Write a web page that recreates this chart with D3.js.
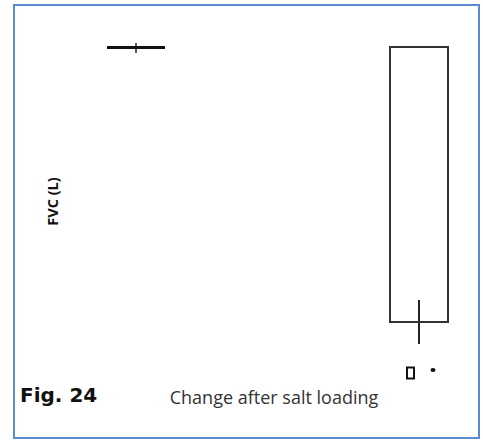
<!DOCTYPE html>
<html>
<head>
<meta charset="utf-8">
<script src="https://cdn.jsdelivr.net/npm/d3@7"></script>
<style>
  html, body { margin: 0; padding: 0; background: #fff; }
  svg { display: block; }
</style>
</head>
<body>
<svg id="chart" width="483" height="443"></svg>
<script>
// Box summaries of the change in FVC (L) after salt loading
const categories = ["Group 1", "Group 2"];
const q1Values = [0.600, 0.050];
const medianValues = [0.600, 0.050];
const q3Values = [0.600, 0.600];
const whiskerLow = [0.588, 0.006];
const whiskerHigh = [0.608, 0.094];
const outlierValues = [null, -0.052];
const meanValues = [null, -0.046];

const yLabel = "FVC (L)";
const xLabel = "Change after salt loading";
const figLabel = "Fig. 24";

const svg = d3.select("#chart");

// frame
svg.append("rect")
  .attr("x", 14).attr("y", 5).attr("width", 465).attr("height", 433)
  .attr("fill", "#fff").attr("stroke", "#5b8bd0").attr("stroke-width", 2);

const x = d3.scalePoint().domain(categories).range([136, 419]);
const y = d3.scaleLinear().domain([0.05, 0.60]).range([322, 47]);
const boxW = 58;

const g = svg.append("g");

categories.forEach((c, i) => {
  const cx = x(c);
  const top = y(q3Values[i]);
  const bot = y(q1Values[i]);
  const flat = Math.abs(bot - top) < 1;
  // whisker
  g.append("line")
    .attr("x1", cx).attr("x2", cx)
    .attr("y1", y(whiskerHigh[i])).attr("y2", y(whiskerLow[i]))
    .attr("stroke", "#222").attr("stroke-width", flat ? 1.5 : 2);
  if (flat) {
    g.append("line")
      .attr("x1", cx - boxW / 2).attr("x2", cx + boxW / 2)
      .attr("y1", y(medianValues[i]) + 0.5).attr("y2", y(medianValues[i]) + 0.5)
      .attr("stroke", "#111").attr("stroke-width", 3);
  } else {
    g.append("rect")
      .attr("x", cx - boxW / 2).attr("y", top)
      .attr("width", boxW).attr("height", bot - top)
      .attr("fill", "none").attr("stroke", "#333").attr("stroke-width", 2);
  }
  if (outlierValues[i] != null) {
    g.append("rect")
      .attr("x", cx - 12).attr("y", y(outlierValues[i]) - 5.5)
      .attr("width", 7).attr("height", 11)
      .attr("fill", "none").attr("stroke", "#111").attr("stroke-width", 2);
  }
  if (meanValues[i] != null) {
    g.append("ellipse")
      .attr("cx", cx + 14).attr("cy", y(meanValues[i]))
      .attr("rx", 2.5).attr("ry", 2)
      .attr("fill", "#111");
  }
});

// labels
svg.append("text")
  .attr("transform", "translate(58,201.5) rotate(-90)")
  .attr("text-anchor", "middle")
  .attr("font-family", "'Open Sans', sans-serif")
  .attr("font-weight", "bold")
  .attr("font-size", 14.5)
  .attr("fill", "#111")
  .text(yLabel);

svg.append("text")
  .attr("x", 274).attr("y", 404)
  .attr("text-anchor", "middle")
  .attr("font-family", "'Open Sans', sans-serif")
  .attr("font-size", 18)
  .attr("fill", "#333")
  .text(xLabel);

svg.append("text")
  .attr("x", 20).attr("y", 402)
  .attr("font-family", "'DejaVu Sans', sans-serif")
  .attr("font-weight", "bold")
  .attr("font-size", 20)
  .attr("fill", "#111")
  .text(figLabel);
</script>
</body>
</html>
